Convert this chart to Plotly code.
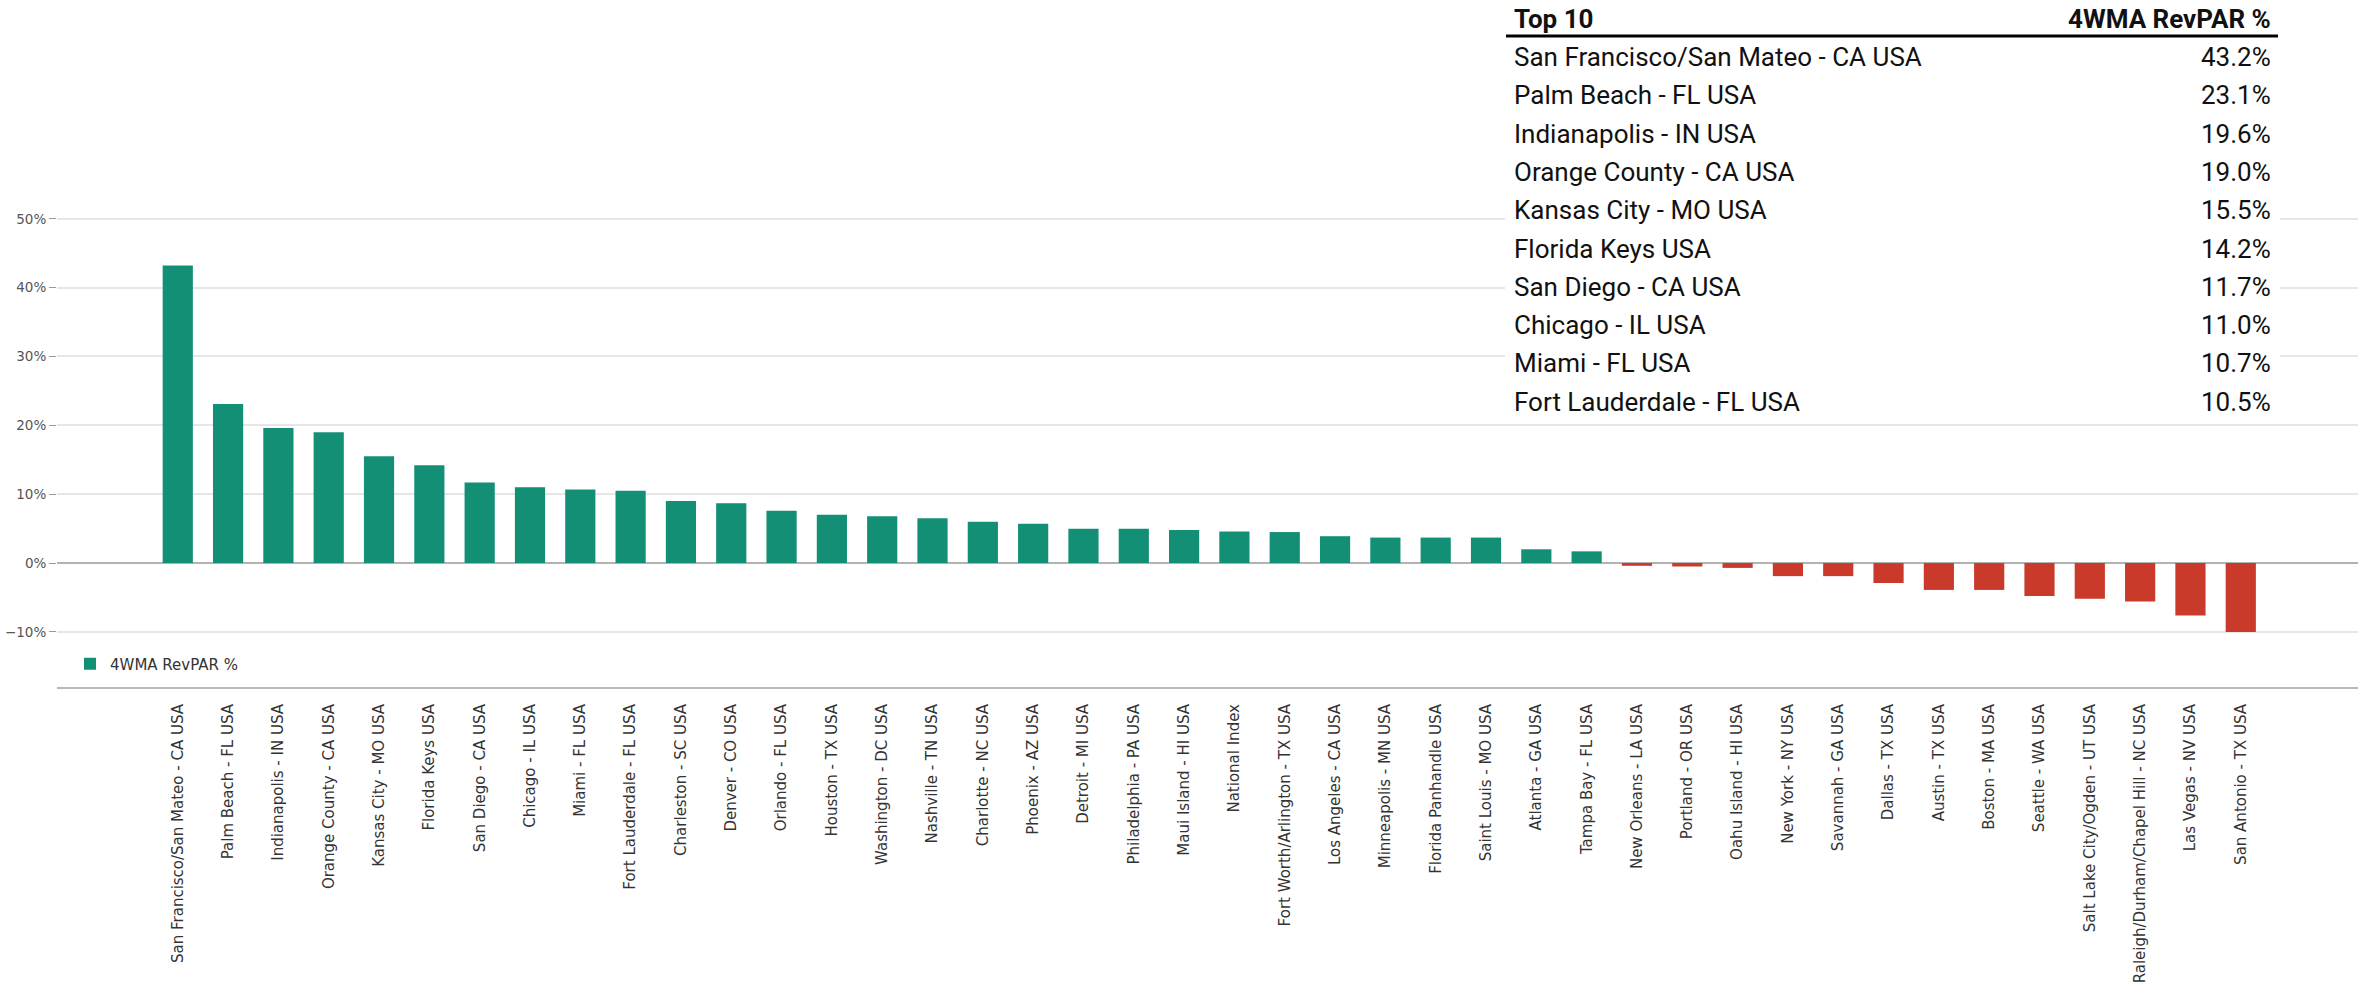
import plotly.graph_objects as go

# Markets ranked by 4-week moving average RevPAR change (%)
markets = [
    "San Francisco/San Mateo - CA USA", "Palm Beach - FL USA", "Indianapolis - IN USA",
    "Orange County - CA USA", "Kansas City - MO USA", "Florida Keys USA",
    "San Diego - CA USA", "Chicago - IL USA", "Miami - FL USA",
    "Fort Lauderdale - FL USA", "Charleston - SC USA", "Denver - CO USA",
    "Orlando - FL USA", "Houston - TX USA", "Washington - DC USA",
    "Nashville - TN USA", "Charlotte - NC USA", "Phoenix - AZ USA",
    "Detroit - MI USA", "Philadelphia - PA USA", "Maui Island - HI USA",
    "National Index", "Fort Worth/Arlington - TX USA", "Los Angeles - CA USA",
    "Minneapolis - MN USA", "Florida Panhandle USA", "Saint Louis - MO USA",
    "Atlanta - GA USA", "Tampa Bay - FL USA", "New Orleans - LA USA",
    "Portland - OR USA", "Oahu Island - HI USA", "New York - NY USA",
    "Savannah - GA USA", "Dallas - TX USA", "Austin - TX USA",
    "Boston - MA USA", "Seattle - WA USA", "Salt Lake City/Ogden - UT USA",
    "Raleigh/Durham/Chapel Hill - NC USA", "Las Vegas - NV USA", "San Antonio - TX USA",
]
revpar_4wma = [
    43.2, 23.1, 19.6, 19.0, 15.5, 14.2, 11.7, 11.0, 10.7, 10.5,
    9.0, 8.7, 7.6, 7.0, 6.8, 6.5, 6.0, 5.7, 5.0, 5.0,
    4.8, 4.6, 4.5, 3.9, 3.7, 3.7, 3.7, 2.0, 1.7, -0.4,
    -0.5, -0.7, -1.9, -1.9, -2.9, -3.9, -3.9, -4.8, -5.2, -5.6,
    -7.6, -10.0,
]
y_ticks = [-10, 0, 10, 20, 30, 40, 50]
y_tick_labels = [f"{v}%".replace("-", "\u2212") for v in y_ticks]
series_name = "4WMA RevPAR %"
table_header = ["Top 10", "4WMA RevPAR %"]
top_n = 10

# Canvas and plot-area geometry (pixels)
W, H = 2361, 998
ML, MR, MT, MB = 57, 3, 205, 311
PLOT_W = W - ML - MR
PLOT_H = H - MT - MB


def px(xp):
    """Pixel x -> paper x."""
    return (xp - ML) / PLOT_W


def py(yp):
    """Pixel y (from top) -> paper y."""
    return (H - MB - yp) / PLOT_H


GREEN = "#138f76"
RED = "#c93a2b"
bar_colors = [GREEN if v >= 0 else RED for v in revpar_4wma]

fig = go.Figure(
    go.Bar(
        x=markets,
        y=revpar_4wma,
        name=series_name,
        showlegend=True,
        marker=dict(color=bar_colors, line=dict(width=0)),
    )
)

tick_font = dict(family="DejaVu Sans", size=15, color="#333333")

fig.update_layout(
    width=W,
    height=H,
    margin=dict(l=ML, r=MR, t=MT, b=MB, pad=0),
    paper_bgcolor="white",
    plot_bgcolor="white",
    bargap=0.4,
    font=dict(family="DejaVu Sans", color="#333333"),
    legend=dict(
        x=px(70), y=py(664), xanchor="left", yanchor="middle",
        font=dict(family="DejaVu Sans", size=15, color="#333333"),
        bgcolor="rgba(255,255,255,0.85)",
    ),
    xaxis=dict(
        type="category",
        range=[-2.4, 43.33],
        tickangle=-90,
        tickfont=tick_font,
        showgrid=False,
        showline=True,
        linecolor="#b8b8b8",
        linewidth=2,
        ticks="outside",
        ticklen=9,
        tickcolor="rgba(0,0,0,0)",
        zeroline=False,
    ),
    yaxis=dict(
        range=[-18, 52],
        tickmode="array",
        tickvals=y_ticks,
        ticktext=y_tick_labels,
        tickfont=dict(family="DejaVu Sans", size=13.5, color="#555555"),
        showgrid=True,
        gridcolor="#e6e6e6",
        gridwidth=1.5,
        zeroline=True,
        zerolinecolor="#b3b3b3",
        zerolinewidth=1.5,
        ticks="outside",
        ticklen=7,
        tickcolor="#9a9a9a",
        showline=False,
    ),
)

# Top-10 summary table in the upper right corner
table_font = "Roboto, Liberation Sans, Arial, sans-serif"
table_size = 26
TABLE_L, TABLE_R = 1506, 2278
fig.add_shape(
    type="rect", xref="paper", yref="paper",
    x0=px(TABLE_L - 1), x1=px(TABLE_R + 2), y0=py(0), y1=py(418),
    fillcolor="white", line=dict(width=0), layer="above",
)
fig.add_shape(
    type="line", xref="paper", yref="paper",
    x0=px(TABLE_L), x1=px(TABLE_R), y0=py(36), y1=py(36),
    line=dict(color="black", width=3), layer="above",
)
fig.add_annotation(
    text=f"<b>{table_header[0]}</b>", xref="paper", yref="paper",
    x=px(TABLE_L + 6), y=py(19), xanchor="left", yanchor="middle", showarrow=False,
    font=dict(family=table_font, size=table_size, color="#111111"),
)
fig.add_annotation(
    text=f"<b>{table_header[1]}</b>", xref="paper", yref="paper",
    x=px(TABLE_R - 5), y=py(19), xanchor="right", yanchor="middle", showarrow=False,
    font=dict(family=table_font, size=table_size, color="#111111"),
)
ranked = sorted(zip(markets, revpar_4wma), key=lambda mv: mv[1], reverse=True)[:top_n]
for k, (name, val) in enumerate(ranked):
    row_y = py(57 + 38.3 * k)
    fig.add_annotation(
        text=name, xref="paper", yref="paper",
        x=px(TABLE_L + 6), y=row_y, xanchor="left", yanchor="middle", showarrow=False,
        font=dict(family=table_font, size=table_size, color="#111111"),
    )
    fig.add_annotation(
        text=f"{val:.1f}%", xref="paper", yref="paper",
        x=px(TABLE_R - 5), y=row_y, xanchor="right", yanchor="middle", showarrow=False,
        font=dict(family=table_font, size=table_size, color="#111111"),
    )

fig.write_html("out.html")
